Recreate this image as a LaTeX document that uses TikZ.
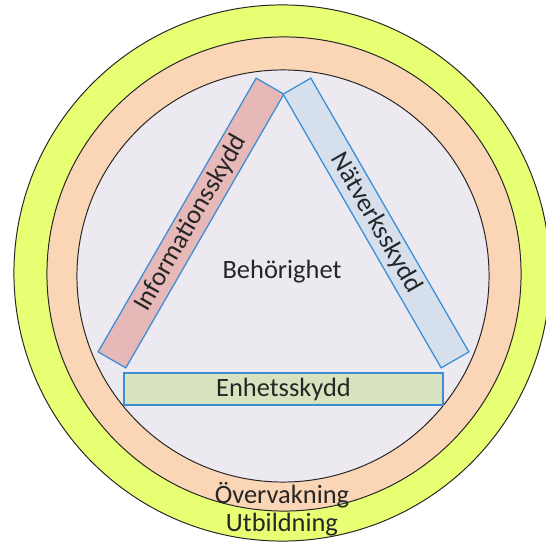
\documentclass[tikz,border=0pt]{standalone}
\usepackage{fontspec}
\setmainfont{Carlito}
\usepackage{xcolor}
\usepackage{tikz}
\usetikzlibrary{positioning}

\definecolor{utbgul}{HTML}{E6FF73}
\definecolor{overpeach}{HTML}{FBD6B6}
\definecolor{behlila}{HTML}{ECE9F0}
\definecolor{infrosa}{HTML}{E6B9B8}
\definecolor{natbla}{HTML}{D5E0EC}
\definecolor{enhgron}{HTML}{D7E3BF}
\definecolor{kantbla}{HTML}{3A8ED6}
\definecolor{textgra}{HTML}{262626}

\newcommand{\etikett}{\fontsize{18.8}{22}\selectfont}

\begin{document}
\begin{tikzpicture}[x=0.025cm, y=-0.025cm,
		ring/.style={draw=black!85, line width=0.7pt, circle, inner sep=0pt},
		skydd/.style={draw=kantbla, line width=0.9pt, inner sep=0pt, minimum height=0.8cm, text=textgra, font=\etikett},
		lbl/.style={text=textgra, font=\etikett, inner sep=0pt}]
		\clip (0,0) rectangle (546,544);

		\node[ring, fill=utbgul, minimum size=13.4cm] (utb) at (282,273) {};
		\node[ring, fill=overpeach, minimum size=11.85cm] (over) at (284,274) {};
		\node[ring, fill=behlila, minimum size=10.3cm] (beh) at (283,276) {};

		\node[skydd, fill=infrosa, minimum width=7.9cm, rotate=60] (info) at (191,223) {Informationsskydd};
		\node[skydd, fill=natbla, minimum width=7.9cm, rotate=-60] (nat) at (376,223) {Nätverksskydd};
		\node[skydd, fill=enhgron, minimum width=7.975cm] (enh) at (283.5,389) {Enhetsskydd};

		\node[lbl] (behtxt) at (282,272) {Behörighet};
		\node[lbl] (overtxt) at (282,495) {Övervakning};
		\node[lbl] (utbtxt) at (282,525) {Utbildning};
	\end{tikzpicture}
\end{document}
